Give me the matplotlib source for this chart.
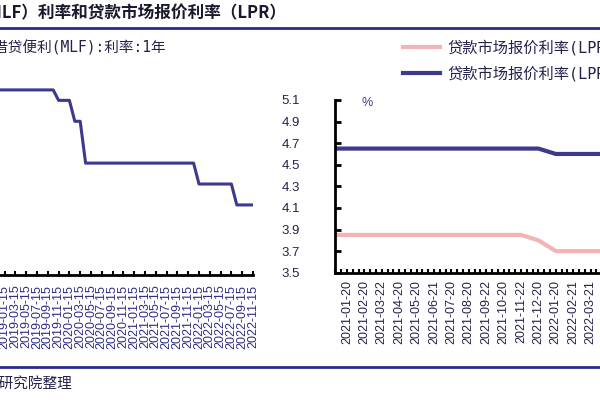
import numpy as np
import pandas as pd
import matplotlib
matplotlib.use('Agg')
import matplotlib.pyplot as plt
from matplotlib.lines import Line2D
from matplotlib.ticker import FixedLocator, MultipleLocator

plt.rcParams['font.family'] = ['Liberation Sans', 'Noto Sans CJK SC', 'DejaVu Sans']

# 左图: MLF 1年期利率(月度, 每月15日)
mlf_dates = pd.date_range('2018-09-01', '2022-11-01', freq='MS') + pd.Timedelta(days=14)
mlf_rate = [3.30, 3.30, 3.30, 3.30, 3.30, 3.30, 3.30, 3.30, 3.30, 3.30,
            3.30, 3.30, 3.30, 3.30, 3.25, 3.25, 3.25, 3.15, 3.15, 2.95,
            2.95, 2.95, 2.95, 2.95, 2.95, 2.95, 2.95, 2.95, 2.95, 2.95,
            2.95, 2.95, 2.95, 2.95, 2.95, 2.95, 2.95, 2.95, 2.95, 2.95,
            2.85, 2.85, 2.85, 2.85, 2.85, 2.85, 2.85, 2.75, 2.75, 2.75,
            2.75]

# 右图: LPR 1年 / 5年
lpr_dates = ['2020-12-21', '2021-01-20', '2021-02-20', '2021-03-22', '2021-04-20',
             '2021-05-20', '2021-06-21', '2021-07-20', '2021-08-20', '2021-09-22',
             '2021-10-20', '2021-11-22', '2021-12-20', '2022-01-20', '2022-02-21',
             '2022-03-21', '2022-04-20', '2022-05-20', '2022-06-20', '2022-07-20',
             '2022-08-22', '2022-09-20', '2022-10-20', '2022-11-21']
lpr_1y = [3.85, 3.85, 3.85, 3.85, 3.85, 3.85, 3.85, 3.85, 3.85, 3.85, 3.85, 3.85,
          3.80, 3.70, 3.70, 3.70, 3.70, 3.70, 3.70, 3.70, 3.65, 3.65, 3.65, 3.65]
lpr_5y = [4.65, 4.65, 4.65, 4.65, 4.65, 4.65, 4.65, 4.65, 4.65, 4.65, 4.65, 4.65,
          4.65, 4.60, 4.60, 4.60, 4.60, 4.45, 4.45, 4.45, 4.30, 4.30, 4.30, 4.30]
lpr_ticks = [3.5, 3.7, 3.9, 4.1, 4.3, 4.5, 4.7, 4.9, 5.1]

navy = '#3b3a8e'
pink = '#f4b4b4'
rule = '#2a2a8c'
txt = '#23234a'
cjk_mono = ['DejaVu Sans Mono', 'Noto Sans CJK SC']

W, H = 600, 400
fig = plt.figure(figsize=(6, 4), dpi=100)


def box(x0, y_bottom, w, h):
    # 像素(左上原点) -> figure 坐标
    return [x0 / W, 1 - y_bottom / H, w / W, h / H]


# 标题与分隔线
fig.text(287 / W, 1 - 13 / H, '图：中期借贷便利（MLF）利率和贷款市场报价利率（LPR）',
         ha='right', va='center', fontsize=12, fontweight='bold', color='#1a1a2e',
         family=['Noto Sans CJK SC'])
fig.add_artist(Line2D([0, 1], [1 - 28 / H, 1 - 28 / H], color=rule, lw=2))
fig.add_artist(Line2D([0, 1], [1 - 367 / H, 1 - 367 / H], color=rule, lw=2))
fig.text(72 / W, 1 - 384 / H, '资料来源：Wind，研究院整理', ha='right', va='center',
         fontsize=10.5, color=txt, style='italic', family=['Noto Sans CJK SC'])

# 左图
fig.text(166 / W, 1 - 48 / H, '中期借贷便利(MLF):利率:1年', ha='right', va='center',
         fontsize=10.5, color=txt, family=cjk_mono)
ax1 = fig.add_axes(box(-17, 275, 270, 206))
x1 = np.arange(len(mlf_rate))
ax1.plot(x1, mlf_rate, color=navy, lw=2.2)
ax1.set_xlim(0, len(mlf_rate) - 1)
ax1.set_ylim(2.415, 3.4)
ax1.xaxis.set_major_locator(FixedLocator(x1[::2]))
ax1.set_xticklabels([d.strftime('%Y-%m-%d') for d in mlf_dates[::2]], rotation=90,
                    fontsize=9, color='#2e2e86')
ax1.tick_params(axis='x', direction='in', length=3, width=1.5, pad=7)
ax1.set_yticks([])
for s in ['top', 'right', 'left']:
    ax1.spines[s].set_visible(False)
ax1.spines['bottom'].set_linewidth(2)
ax1.patch.set_alpha(0)

# 右图
ax2 = fig.add_axes(box(335, 272.7, 394.8, 172.7))
x2 = np.arange(len(lpr_dates))
ax2.plot(x2, lpr_1y, color=pink, lw=3)
ax2.plot(x2, lpr_5y, color=navy, lw=3)
ax2.set_xlim(0.31, len(lpr_dates) - 1)
ax2.set_ylim(3.5, 5.1)
ax2.set_xticks(x2[1:])
ax2.set_xticklabels(lpr_dates[1:], rotation=90, fontsize=9, color=txt)
ax2.xaxis.set_minor_locator(MultipleLocator(1 / 3))
ax2.set_yticks(lpr_ticks)
ax2.set_yticklabels([f'{v:.1f}' for v in lpr_ticks], fontsize=9.5, color=txt)
ax2.tick_params(axis='x', which='both', direction='in', length=3, width=1.5, pad=5)
ax2.tick_params(axis='y', direction='in', length=4, width=2, pad=25)
for s in ['top', 'right']:
    ax2.spines[s].set_visible(False)
ax2.spines['left'].set_linewidth(2)
ax2.spines['bottom'].set_linewidth(2)
ax2.text(367 / W, 1 - 103 / H, '%', transform=fig.transFigure, ha='center', va='center',
         fontsize=9, color=navy)

# 图例
for yy, col, lab in [(47, pink, '贷款市场报价利率(LPR):1年'),
                     (73, navy, '贷款市场报价利率(LPR):5年')]:
    fig.add_artist(Line2D([403 / W, 440 / W], [1 - yy / H, 1 - yy / H], color=col, lw=3))
    fig.text(447 / W, 1 - (yy + 1) / H, lab, ha='left', va='center', fontsize=11,
             color=txt, family=cjk_mono)

fig.savefig('out.png', dpi=100)
